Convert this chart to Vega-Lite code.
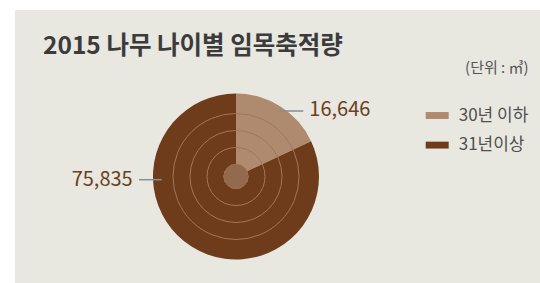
{
  "$schema": "https://vega.github.io/schema/vega-lite/v6.json",
  "width": 540,
  "height": 283,
  "autosize": {"type": "fit", "contains": "padding"},
  "padding": {"left": 15, "top": 10, "right": 0, "bottom": 0},
  "background": "#ffffff",
  "view": {"fill": "#e8e7e0", "stroke": null},
  "config": {"font": "Noto Sans CJK KR"},
  "title": {
    "text": "2015 나무 나이별 임목축적량",
    "anchor": "start",
    "frame": "group",
    "orient": "top",
    "baseline": "alphabetic",
    "offset": -68,
    "dx": 28,
    "font": "Noto Sans CJK KR",
    "fontSize": 24.5,
    "fontWeight": "bold",
    "color": "#3b3b3b"
  },
  "datasets": {
    "pie": [
      {"category": "30년 이하", "value": 16646},
      {"category": "31년이상", "value": 75835}
    ],
    "rings": [
      {"ring": 0},
      {"ring": 1},
      {"ring": 2},
      {"ring": 3}
    ]
  },
  "layer": [
    {
      "data": {"name": "pie"},
      "mark": {"type": "arc", "outerRadius": 83},
      "encoding": {
        "x": {"value": 221},
        "y": {"value": 166.5},
        "theta": {"field": "value", "type": "quantitative", "stack": true},
        "order": {"field": "category", "sort": "ascending"},
        "color": {
          "field": "category",
          "type": "nominal",
          "scale": {"domain": ["30년 이하", "31년이상"], "range": ["#b08a6f", "#6f3c1b"]},
          "legend": {
            "orient": "none",
            "legendX": 410.7,
            "legendY": 51,
            "padding": 0,
            "title": "(단위 : ㎥)",
            "titleFont": "Noto Sans CJK KR",
            "titleFontSize": 15,
            "titleFontWeight": "normal",
            "titleColor": "#555555",
            "titleAnchor": "end",
            "titlePadding": 28,
            "symbolType": "M-1,-0.3H1V0.3H-1Z",
            "symbolSize": 529,
            "symbolStrokeWidth": 0,
            "symbolOpacity": 1,
            "labelFont": "Noto Sans CJK KR",
            "labelFontSize": 17,
            "labelColor": "#4f4f4f",
            "labelOffset": 10,
            "rowPadding": 9.6
          }
        }
      }
    },
    {
      "data": {"name": "rings"},
      "transform": [{"filter": "datum.ring > 0"}],
      "mark": {"type": "arc", "fill": null, "fillOpacity": 0, "stroke": "#a27558", "strokeWidth": 1},
      "encoding": {
        "x": {"value": 221},
        "y": {"value": 166.5},
        "theta": {"value": 0},
        "theta2": {"value": 6.2832},
        "radius": {"field": "ring", "type": "quantitative", "stack": null, "scale": {"type": "linear", "zero": false, "domain": [0, 4], "range": [12, 80]}}
      }
    },
    {
      "data": {"name": "rings"},
      "transform": [{"filter": "datum.ring == 0"}],
      "mark": {"type": "arc", "outerRadius": 12, "innerRadius": 0, "fill": "#946a4f", "filled": true, "stroke": null},
      "encoding": {
        "x": {"value": 221},
        "y": {"value": 166.5},
        "theta": {"value": 0},
        "theta2": {"value": 6.2832}
      }
    },
    {
      "data": {"name": "pie"},
      "transform": [{"filter": "datum.category == '30년 이하'"}],
      "mark": {"type": "rule", "stroke": "#8a8d91", "strokeWidth": 1.5},
      "encoding": {
        "x": {"value": 264.3},
        "x2": {"value": 288.3},
        "y": {"value": 101},
        "y2": {"value": 101}
      }
    },
    {
      "data": {"name": "pie"},
      "transform": [{"filter": "datum.category == '31년이상'"}],
      "mark": {"type": "rule", "stroke": "#8a8d91", "strokeWidth": 1.5},
      "encoding": {
        "x": {"value": 124},
        "x2": {"value": 146.7},
        "y": {"value": 169.7},
        "y2": {"value": 169.7}
      }
    },
    {
      "data": {"name": "pie"},
      "transform": [{"filter": "datum.category == '30년 이하'"}],
      "mark": {"type": "text", "align": "left", "baseline": "middle", "font": "Noto Sans CJK KR", "fontSize": 20, "color": "#6b4020"},
      "encoding": {
        "x": {"value": 294.3},
        "y": {"value": 100},
        "text": {"field": "value", "type": "quantitative", "format": ","}
      }
    },
    {
      "data": {"name": "pie"},
      "transform": [{"filter": "datum.category == '31년이상'"}],
      "mark": {"type": "text", "align": "right", "baseline": "middle", "font": "Noto Sans CJK KR", "fontSize": 20, "color": "#6b4020"},
      "encoding": {
        "x": {"value": 117.7},
        "y": {"value": 169.5},
        "text": {"field": "value", "type": "quantitative", "format": ","}
      }
    }
  ],
  "resolve": {"scale": {"radius": "independent", "theta": "independent"}}
}
